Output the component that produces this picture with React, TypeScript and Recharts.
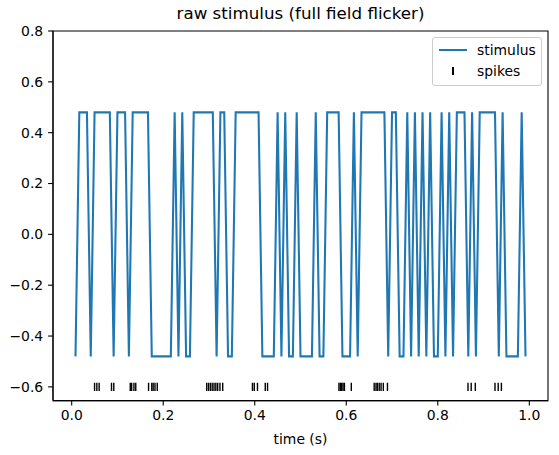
import React from "react";
import {
  ComposedChart,
  Line,
  Scatter,
  XAxis,
  YAxis,
  ReferenceArea,
  Label,
} from "recharts";

// one sample per monitor frame
const FRAME_RATE = 120;

// full field flicker contrast, frames 1..119
const stimulus = [
  -0.48, 0.48, 0.48, 0.48, -0.48, 0.48, 0.48, 0.48, 0.48, 0.48,
  -0.48, 0.48, 0.48, 0.48, -0.48, 0.48, 0.48, 0.48, 0.48, 0.48,
  -0.48, -0.48, -0.48, -0.48, -0.48, -0.48, 0.48, -0.48, 0.48, -0.48,
  -0.48, 0.48, 0.48, 0.48, 0.48, 0.48, 0.48, -0.48, 0.48, 0.48,
  -0.48, -0.48, 0.48, 0.48, 0.48, 0.48, 0.48, 0.48, 0.48, -0.48,
  -0.48, -0.48, -0.48, 0.48, -0.48, 0.48, -0.48, -0.48, 0.48, -0.48,
  -0.48, -0.48, -0.48, 0.48, -0.48, -0.48, 0.48, 0.48, 0.48, 0.48,
  -0.48, -0.48, -0.48, 0.48, -0.48, 0.48, 0.48, 0.48, 0.48, 0.48,
  0.48, 0.48, -0.48, 0.48, 0.48, -0.48, -0.48, 0.48, -0.48, 0.48,
  -0.48, 0.48, -0.48, 0.48, -0.48, -0.48, 0.48, -0.48, 0.48, -0.48,
  0.48, 0.48, 0.48, -0.48, 0.48, -0.48, 0.48, 0.48, 0.48, 0.48,
  0.48, -0.48, 0.48, -0.48, -0.48, -0.48, -0.48, 0.48, -0.48,
];

// spike times (s)
const spikeTimes = [
  0.05, 0.055, 0.06, 0.087, 0.092, 0.128, 0.131, 0.136, 0.14, 0.168,
  0.175, 0.178, 0.182, 0.187, 0.295, 0.299, 0.303, 0.307, 0.311, 0.315,
  0.319, 0.324, 0.33, 0.395, 0.399, 0.406, 0.423, 0.428, 0.584, 0.587,
  0.59, 0.593, 0.596, 0.611, 0.661, 0.665, 0.668, 0.672, 0.676, 0.681,
  0.69, 0.866, 0.873, 0.882, 0.925, 0.932, 0.939,
];
const SPIKE_ROW = -0.6;

const xTicks = [0, 0.2, 0.4, 0.6, 0.8, 1.0];
const yTicks = [-0.6, -0.4, -0.2, 0, 0.2, 0.4, 0.6, 0.8];

const X_DOMAIN: [number, number] = [-0.04083, 1.04083];
const Y_DOMAIN: [number, number] = [-0.654, 0.8];

const FONT = "'DejaVu Sans', sans-serif";
const BLUE = "#1f77b4";

const lineData = stimulus.map((v, i) => ({ t: (i + 1) / FRAME_RATE, v }));
const spikeData = spikeTimes.map((t) => ({ t, y: SPIKE_ROW }));

const fmt = (v: number) => {
  const s = v.toFixed(1);
  return s.startsWith("-") ? "\u2212" + s.slice(1) : s;
};

const SpikeMark = (props: any) => {
  const { cx, cy } = props;
  if (cx == null || cy == null) return null;
  return (
    <line x1={cx} x2={cx} y1={cy - 4.2} y2={cy + 4.2} stroke="#000" strokeWidth={1.4} />
  );
};

const tickStyle = { fill: "#000", fontSize: 13.9, fontFamily: FONT };

export default function App() {
  return (
    <div style={{ position: "absolute", left: 0, top: 0, width: 559, height: 455, background: "#fff" }}>
      <div
        style={{
          position: "absolute",
          left: 53,
          width: 495,
          top: 5,
          textAlign: "center",
          fontFamily: FONT,
          fontSize: 16.7,
          lineHeight: "16.7px",
          color: "#000",
          whiteSpace: "nowrap",
        }}
      >
        raw stimulus (full field flicker)
      </div>

      <ComposedChart
        width={559}
        height={455}
        margin={{ top: 31, right: 11, bottom: 0, left: 0 }}
      >
        <XAxis
          type="number"
          dataKey="t"
          domain={X_DOMAIN}
          allowDataOverflow
          ticks={xTicks}
          tickFormatter={fmt}
          height={54.4}
          tickSize={4.9}
          tickMargin={4.9}
          tick={tickStyle}
          tickLine={{ stroke: "#000", strokeWidth: 1.1 }}
          axisLine={{ stroke: "#000", strokeWidth: 1.1 }}
        >
          <Label
            value="time (s)"
            position="insideBottom"
            offset={11}
            style={{ fill: "#000", fontSize: 13.9, fontFamily: FONT }}
          />
        </XAxis>
        <YAxis
          type="number"
          domain={Y_DOMAIN}
          allowDataOverflow
          ticks={yTicks}
          tickFormatter={fmt}
          width={53}
          tickSize={4.9}
          tickMargin={4.9}
          tick={tickStyle}
          tickLine={{ stroke: "#000", strokeWidth: 1.1 }}
          axisLine={{ stroke: "#000", strokeWidth: 1.1 }}
        />
        <ReferenceArea
          x1={X_DOMAIN[0]}
          x2={X_DOMAIN[1]}
          y1={Y_DOMAIN[0]}
          y2={Y_DOMAIN[1]}
          fill="none"
          stroke="#000"
          strokeWidth={1.1}
          ifOverflow="visible"
        />
        <Line
          data={lineData}
          dataKey="v"
          type="linear"
          stroke={BLUE}
          strokeWidth={2.08}
          dot={false}
          activeDot={false}
          isAnimationActive={false}
        />
        <Scatter
          data={spikeData}
          dataKey="y"
          shape={SpikeMark}
          isAnimationActive={false}
        />
      </ComposedChart>

      {/* legend, upper right */}
      <div
        style={{
          position: "absolute",
          left: 432,
          top: 37,
          width: 108,
          height: 47,
          border: "1px solid #cccccc",
          borderRadius: 3,
          background: "rgba(255,255,255,0.8)",
          fontFamily: FONT,
          fontSize: 13.9,
          color: "#000",
        }}
      >
        <div style={{ position: "absolute", left: 6, top: 11, width: 28, height: 2.08, background: BLUE }} />
        <div style={{ position: "absolute", left: 44, top: 4, lineHeight: "16px", whiteSpace: "nowrap" }}>stimulus</div>
        <div style={{ position: "absolute", left: 19.3, top: 29, width: 1.4, height: 8.3, background: "#000" }} />
        <div style={{ position: "absolute", left: 44, top: 25, lineHeight: "16px", whiteSpace: "nowrap" }}>spikes</div>
      </div>
    </div>
  );
}
